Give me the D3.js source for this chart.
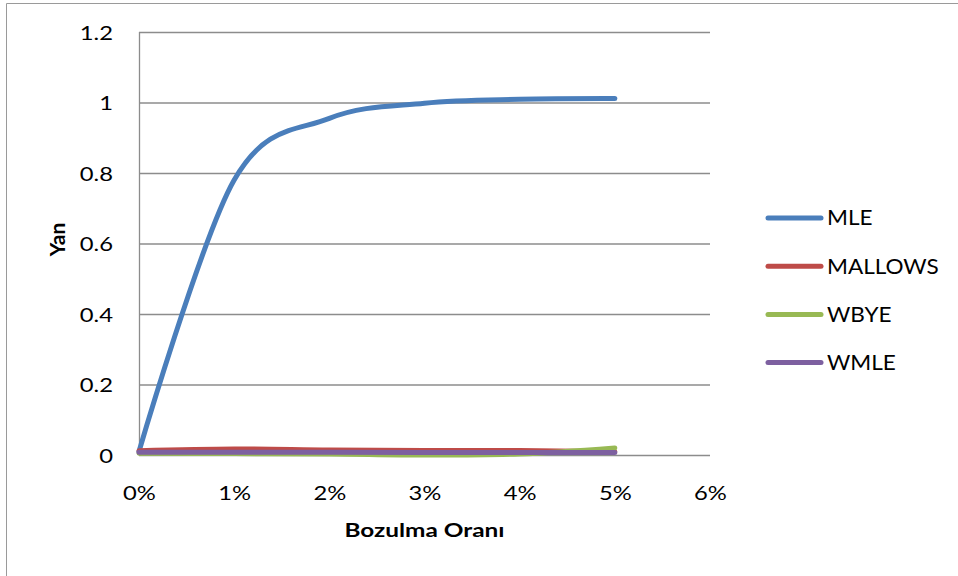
<!DOCTYPE html>
<html>
<head>
<meta charset="utf-8">
<script src="https://cdn.jsdelivr.net/npm/d3@7"></script>
<style>
  html, body { margin: 0; padding: 0; background: #fff; }
  svg { display: block; font-family: Lato, "Open Sans", sans-serif; }
</style>
</head>
<body>
<svg id="chart" width="958" height="576"></svg>
<script>
// Bozulma oranı (%) at which each estimator was evaluated
const rates = [0, 1, 2, 3, 4, 5];

// Yan (bias) per estimator
const mle     = [0.010, 0.780, 0.955, 0.998, 1.009, 1.011];
const mallows = [0.012, 0.017, 0.014, 0.013, 0.013, 0.009];
const wbye    = [0.005, 0.004, 0.003, 0.000, 0.003, 0.020];
const wmle    = [0.008, 0.008, 0.008, 0.007, 0.007, 0.007];

const seriesNames  = ["MLE", "MALLOWS", "WBYE", "WMLE"];
const seriesValues = [mle, mallows, wbye, wmle];
const seriesColors = ["#4A7EBB", "#BE4B48", "#98B954", "#7D60A0"];

const xTicks = [0, 1, 2, 3, 4, 5, 6];
const yTicks = [0, 0.2, 0.4, 0.6, 0.8, 1, 1.2];

const xTitle = "Bozulma Oranı";
const yTitle = "Yan";

const svg = d3.select("#chart");

// outer chart frame
svg.append("path")
  .attr("d", "M6.5,576 V3.5 H958")
  .attr("fill", "none")
  .attr("stroke", "#9a9a9a")
  .attr("stroke-width", 1);

const plot = { left: 139, right: 710, top: 32, bottom: 455 };

const x = d3.scaleLinear().domain([0, 6]).range([plot.left, plot.right]);
const y = d3.scaleLinear().domain([0, 1.2]).range([plot.bottom, plot.top]);

// horizontal gridlines
svg.append("g")
  .selectAll("line")
  .data(yTicks)
  .join("line")
  .attr("x1", plot.left)
  .attr("x2", plot.right)
  .attr("y1", d => y(d) + 0.5)
  .attr("y2", d => y(d) + 0.5)
  .attr("stroke", "#8c8c8c")
  .attr("stroke-width", 1.3);

// vertical axis line
svg.append("line")
  .attr("x1", plot.left + 0.5).attr("x2", plot.left + 0.5)
  .attr("y1", plot.top).attr("y2", plot.bottom + 1)
  .attr("stroke", "#8c8c8c")
  .attr("stroke-width", 1.3);

// y tick labels (slightly widened glyphs)
const yAxis = d3.axisLeft(y).tickValues(yTicks).tickSize(0).tickPadding(0)
  .tickFormat(d => d3.format("")(+d.toFixed(1)));
const gy = svg.append("g").attr("transform", `translate(${plot.left - 26},0)`).call(yAxis);
gy.select(".domain").remove();
gy.selectAll("text")
  .attr("font-family", "Lato, sans-serif")
  .attr("font-size", 19.5)
  .attr("fill", "#000")
  .attr("dy", "0.36em")
  .attr("transform", "scale(1.22,1)");

// x tick labels
const xAxis = d3.axisBottom(x).tickValues(xTicks).tickSize(0).tickPadding(0)
  .tickFormat(d => d + "%");
const gx = svg.append("g").attr("transform", `translate(0,${plot.bottom + 38})`).call(xAxis);
gx.select(".domain").remove();
gx.selectAll("text")
  .attr("font-family", "Lato, sans-serif")
  .attr("font-size", 19.5)
  .attr("fill", "#000")
  .attr("dy", "0.36em")
  .attr("transform", "scale(1.22,1)");

// axis titles
svg.append("text")
  .attr("transform", `translate(${(plot.left + plot.right) / 2},537) scale(1.25,1)`)
  .attr("text-anchor", "middle")
  .attr("font-weight", "bold")
  .attr("font-size", 19.5)
  .text(xTitle);

svg.append("text")
  .attr("transform", `translate(65,${(plot.top + plot.bottom) / 2 - 4}) rotate(-90)`)
  .attr("text-anchor", "middle")
  .attr("font-weight", "bold")
  .attr("font-size", 21)
  .text(yTitle);

// series lines, smoothed through the measured points
const line = d3.line()
  .x((d, i) => x(rates[i]))
  .y(d => y(d))
  .curve(d3.curveCardinal.tension(0));

svg.append("g")
  .selectAll("path")
  .data(seriesValues)
  .join("path")
  .attr("d", d => line(d))
  .attr("fill", "none")
  .attr("stroke", (d, i) => seriesColors[i])
  .attr("stroke-width", 5)
  .attr("stroke-linecap", "round")
  .attr("stroke-linejoin", "round");

// legend
const legend = svg.append("g")
  .selectAll("g")
  .data(seriesNames)
  .join("g")
  .attr("transform", (d, i) => `translate(768,${218 + i * 48.2})`);

legend.append("line")
  .attr("x1", 0).attr("x2", 53)
  .attr("stroke", (d, i) => seriesColors[i])
  .attr("stroke-width", 5)
  .attr("stroke-linecap", "round");

legend.append("text")
  .attr("transform", "translate(59,0) scale(1.1,1)")
  .attr("dy", "0.36em")
  .attr("font-size", 20.5)
  .attr("fill", "#000")
  .text(d => d);
</script>
</body>
</html>
